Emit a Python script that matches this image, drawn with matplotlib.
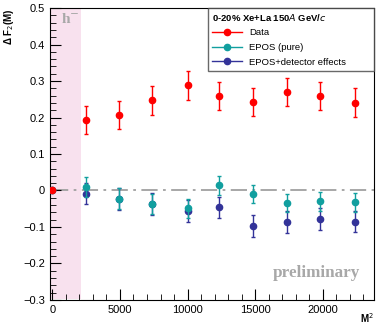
import numpy as np
import matplotlib
matplotlib.use('Agg')
import matplotlib.pyplot as plt
from matplotlib.ticker import MultipleLocator
from matplotlib.lines import Line2D

plt.rcParams['font.family'] = ['Liberation Sans', 'DejaVu Sans']

# data
m2 = [0, 2500, 4900, 7400, 10000, 12300, 14850, 17350, 19800, 22400]
data_y = [0.0, 0.194, 0.207, 0.247, 0.288, 0.259, 0.243, 0.269, 0.258, 0.241]
data_err = [0.0, 0.038, 0.039, 0.039, 0.039, 0.038, 0.038, 0.038, 0.038, 0.039]
epos_y = [0.0, 0.010, -0.022, -0.037, -0.048, 0.015, -0.009, -0.035, -0.029, -0.032]
epos_err = [0.0, 0.027, 0.029, 0.027, 0.026, 0.026, 0.025, 0.025, 0.026, 0.026]
det_y = [0.0, -0.009, -0.024, -0.037, -0.055, -0.046, -0.098, -0.087, -0.079, -0.085]
det_err = [0.0, 0.029, 0.030, 0.030, 0.030, 0.029, 0.030, 0.030, 0.030, 0.029]

c_data = '#ff0000'
c_epos = '#119f9f'
c_det = '#333399'

fig = plt.figure(figsize=(3.77, 3.27), dpi=100)
ax = fig.add_axes([0.1326, 0.0826, 0.8594, 0.8929])

xmin, xmax = -180, 23800
ax.set_xlim(xmin, xmax)
ax.set_ylim(-0.3, 0.5)

# h- region
ax.axvspan(xmin, 2130, ymin=0.005, ymax=1, color='#f8e1ee', lw=0, zorder=0)
ax.plot([0, xmax], [0, 0], color='#a0a0a0', lw=1.3, dashes=[9, 3, 1.5, 3], zorder=1)

ax.errorbar(m2, det_y, yerr=det_err, fmt='o', color=c_det, ms=4.5, capsize=1.2,
            elinewidth=1, zorder=3)
ax.errorbar(m2, epos_y, yerr=epos_err, fmt='o', color=c_epos, ms=4.5, capsize=1.2,
            elinewidth=1, zorder=4)
ax.errorbar(m2, data_y, yerr=data_err, fmt='o', color=c_data, ms=4.5, capsize=1.2,
            elinewidth=1, zorder=5)

ax.xaxis.set_major_locator(MultipleLocator(5000))
ax.xaxis.set_minor_locator(MultipleLocator(1000))
ax.yaxis.set_major_locator(MultipleLocator(0.1))
ax.yaxis.set_minor_locator(MultipleLocator(0.02))
ax.tick_params(which='both', direction='in', labelsize=8, top=False, right=False)
ax.tick_params(which='major', length=8)
ax.tick_params(which='minor', length=4)
ax.set_yticks(np.arange(-0.3, 0.51, 0.1))
ax.set_yticklabels(['\u22120.3', '\u22120.2', '\u22120.1', '0', '0.1', '0.2', '0.3', '0.4', '0.5'])

ax.text(-0.125, 1.0, '\u0394 F$_2$(M)', transform=ax.transAxes, rotation=90,
        ha='center', va='top', fontsize=7, fontweight='bold')
ax.text(1.0, -0.04, 'M$^2$', transform=ax.transAxes, ha='right', va='top',
        fontsize=7, fontweight='bold')

ax.text(600, 0.468, 'h$^{-}$', color='#a8a8a8', fontsize=11, fontweight='bold',
        family='Liberation Serif', ha='left', va='center')
ax.text(0.957, 0.092, 'preliminary', transform=ax.transAxes, color='#a8a8a8',
        fontsize=12.3, fontweight='bold', family='Liberation Serif', ha='right', va='center')

handles = [Line2D([], [], color=c, lw=1, marker='o', ms=4.5) for c in (c_data, c_epos, c_det)]
labels = ['Data', 'EPOS (pure)', 'EPOS+detector effects']
leg = ax.legend(handles, labels, loc='upper left', bbox_to_anchor=(0.4877, 0.0, 0.5123, 1.0),
                mode='expand', fontsize=6.8, frameon=True, fancybox=False, edgecolor='#444444',
                borderaxespad=0, handlelength=3.2, handletextpad=0.75, borderpad=0.4,
                labelspacing=0.6,
                title='0-20% Xe+La 150$\\it{A}$ GeV/$\\it{c}$',
                title_fontproperties={'size': 6.8, 'weight': 'bold'})
leg._legend_box.align = 'left'
leg.get_frame().set_linewidth(1.0)

fig.savefig('out.png', dpi=100)
